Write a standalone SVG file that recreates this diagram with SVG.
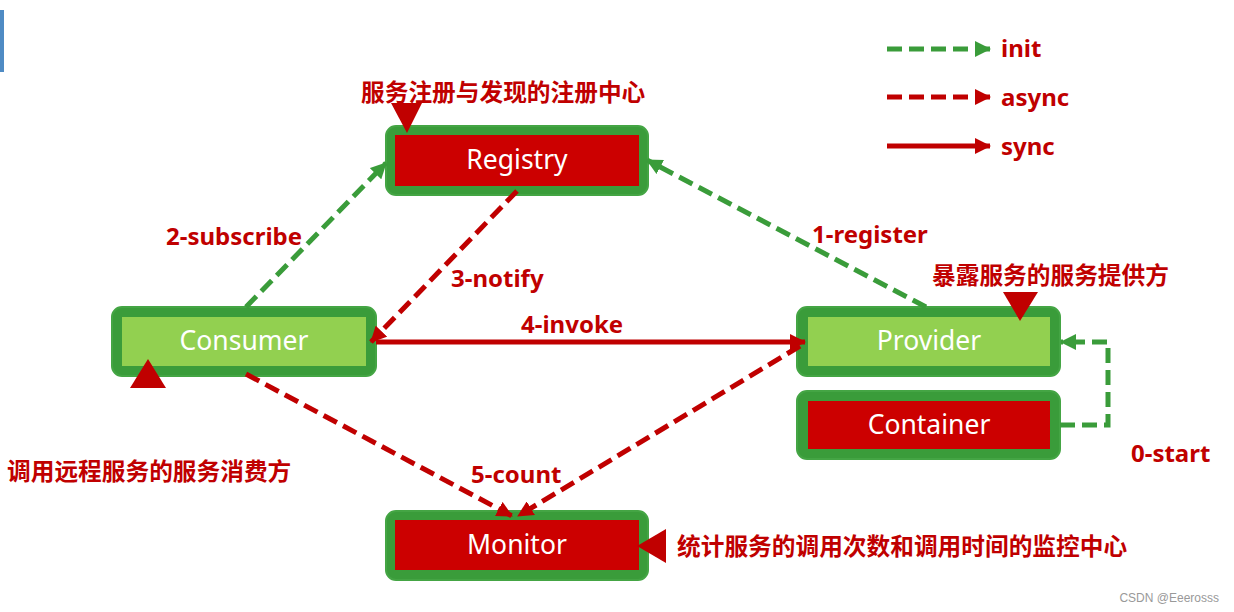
<svg xmlns="http://www.w3.org/2000/svg" width="1234" height="612" viewBox="0 0 1234 612">
<style>
.outer{fill:#3a9c3a;stroke:#44a544;stroke-width:2}
.inRed{fill:#cc0000}
.inGreen{fill:#92d050}
.ntext{font-family:"Noto Sans","Open Sans",sans-serif;font-size:26.5px;fill:#ffffff;text-anchor:middle}
.lbl{font-family:"Noto Sans","Open Sans",sans-serif;font-weight:bold;font-size:24px;fill:#c00000}
.cjk{font-family:"Noto Sans CJK SC",sans-serif;font-weight:bold;font-size:23.7px;fill:#c00000}
.g{stroke:#3a9c3a;stroke-width:5;fill:none;stroke-dasharray:15 7}
.rd{stroke:#c00000;stroke-width:5;fill:none;stroke-dasharray:15 7}
.rs{stroke:#c00000;stroke-width:5;fill:none}
.tri{fill:#c00000}
</style>
<defs>
<marker id="ag" viewBox="0 0 16 16" refX="15" refY="8" markerWidth="16" markerHeight="16" markerUnits="userSpaceOnUse" orient="auto"><path d="M0,0 L16,8 L0,16 Z" fill="#3a9c3a"/></marker>
<marker id="ar" viewBox="0 0 16 16" refX="15" refY="8" markerWidth="16" markerHeight="16" markerUnits="userSpaceOnUse" orient="auto"><path d="M0,0 L16,8 L0,16 Z" fill="#c00000"/></marker>
</defs>
<rect x="0" y="10" width="4" height="62" fill="#4f8bc4"/>
<g id="legend">
<line class="g" x1="887" y1="49" x2="990" y2="49" marker-end="url(#ag)"/>
<line class="rd" x1="887" y1="97" x2="990" y2="97" marker-end="url(#ar)"/>
<line class="rs" x1="887" y1="146" x2="990" y2="146" marker-end="url(#ar)"/>
<text class="lbl" x="1001" y="57">init</text>
<text class="lbl" x="1001" y="106">async</text>
<text class="lbl" x="1001" y="155">sync</text>
</g>
<g id="registry">
<rect class="outer" x="386" y="126" width="262" height="69" rx="10"/>
<rect class="inRed" x="395" y="135" width="244" height="51"/>
<text class="ntext" x="517" y="169">Registry</text>
<polygon class="tri" points="391,103 422,103 407,133"/>
<text class="cjk" x="361" y="101">服务注册与发现的注册中心</text>
</g>
<g id="consumer">
<rect class="outer" x="112" y="307" width="264" height="69" rx="10"/>
<rect class="inGreen" x="122" y="317" width="244" height="49"/>
<text class="ntext" x="244" y="350">Consumer</text>
<polygon class="tri" points="148,359 166,388 130,388"/>
<text class="cjk" x="7" y="480">调用远程服务的服务消费方</text>
</g>
<g id="provider">
<rect class="outer" x="797" y="307" width="263" height="69" rx="10"/>
<rect class="inGreen" x="808" y="317" width="242" height="49"/>
<text class="ntext" x="929" y="350">Provider</text>
<polygon class="tri" points="1003,292 1038,292 1020,321"/>
<text class="cjk" x="932" y="284">暴露服务的服务提供方</text>
</g>
<g id="container">
<rect class="outer" x="797" y="391" width="263" height="68" rx="10"/>
<rect class="inRed" x="808" y="401" width="242" height="48"/>
<text class="ntext" x="929" y="434">Container</text>
</g>
<g id="monitor">
<rect class="outer" x="386" y="511" width="262" height="69" rx="10"/>
<rect class="inRed" x="395" y="520" width="244" height="50"/>
<text class="ntext" x="517" y="554">Monitor</text>
<polygon class="tri" points="637,546 666,529 666,563"/>
<text class="cjk" x="677" y="555">统计服务的调用次数和调用时间的监控中心</text>
</g>
<g id="connectors">
<line class="g" x1="246" y1="307" x2="386" y2="163" marker-end="url(#ag)"/>
<line class="g" x1="926" y1="307" x2="647" y2="160" marker-end="url(#ag)"/>
<line class="rd" x1="517" y1="191" x2="371" y2="342" marker-end="url(#ar)"/>
<line class="rs" x1="376" y1="342" x2="805" y2="342" marker-end="url(#ar)"/>
<line class="rd" x1="246" y1="374" x2="512" y2="516" marker-end="url(#ar)"/>
<line class="rd" x1="800" y1="346" x2="518" y2="516" marker-end="url(#ar)"/>
<path class="g" d="M1060,425 L1108,425 L1108,342 L1061,342" marker-end="url(#ag)"/>
<text class="lbl" x="166" y="245">2-subscribe</text>
<text class="lbl" x="812" y="243">1-register</text>
<text class="lbl" x="451" y="287">3-notify</text>
<text class="lbl" x="521" y="333">4-invoke</text>
<text class="lbl" x="471" y="483">5-count</text>
<text class="lbl" x="1131" y="462">0-start</text>
</g>
<text x="1219" y="602" text-anchor="end" font-family="Liberation Sans, sans-serif" font-size="12" fill="#999999">CSDN @Eeerosss</text>
</svg>
